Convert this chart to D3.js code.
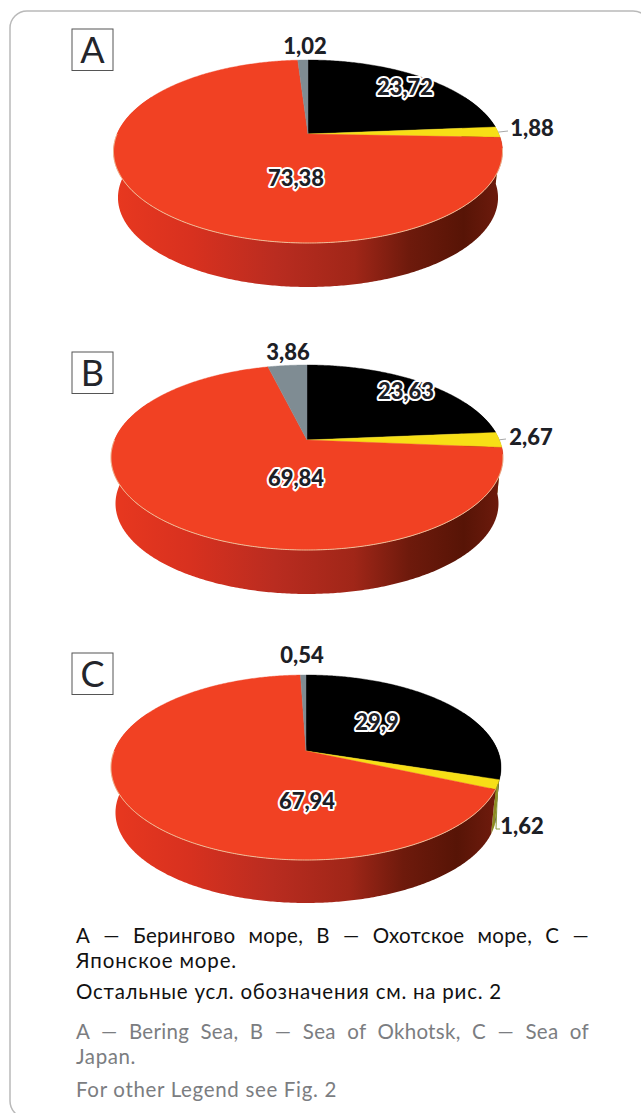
<!DOCTYPE html>
<html lang="ru">
<head>
<meta charset="utf-8">
<title>Доли групп по морям</title>
<script src="https://cdn.jsdelivr.net/npm/d3@7"></script>
<style>
html,body{margin:0;padding:0;background:#fff}
svg{display:block}
text{font-family:Lato,"Open Sans","Noto Sans",sans-serif}
</style>
</head>
<body>
<svg id="chart" width="641" height="1113"></svg>
<script>
// Share of each group, in percent, clockwise from twelve o'clock
const seas = ["A", "B", "C"];
const valuesA = [23.72, 1.88, 73.38, 1.02];
const valuesB = [23.63, 2.67, 69.84, 3.86];
const valuesC = [29.9, 1.62, 67.94, 0.54];
const labelsA = ["23,72", "1,88", "73,38", "1,02"];
const labelsB = ["23,63", "2,67", "69,84", "3,86"];
const labelsC = ["29,9", "1,62", "67,94", "0,54"];

const topColors = ["#000000", "#f7df16", "#f14123", "#7f8c93"];
const sideColors = ["#000000", "#8d8a20", "url(#side)", "#50585c"];
const inside = [true, false, true, false];

// Perspective layout of each disc: apex, half width, near/far half heights, rim drop
const layouts = [
  {cx: 308, cy: 134, a: 194.5, far: 74, near: 109, drop: 46.5,
   box: [72, 29], offsets: [[97, -47], [224, -6], [-12, 44], [-3, -88]], leader: [[200, -3]]},
  {cx: 307, cy: 440, a: 196, far: 75, near: 110, drop: 46.5,
   box: [72, 352], offsets: [[99, -49], [224, -3], [-11, 38], [-19, -88]], leader: [[199, -1]]},
  {cx: 306, cy: 751, a: 195, far: 76, near: 109, drop: 45.5,
   box: [72, 653], offsets: [[71, -29], [216, 75], [1, 50], [-4, -96]], leader: [[190, 78], [194, 78]]}
];

const svg = d3.select("#chart");

const defs = svg.append("defs");
const sideGrad = defs.append("linearGradient").attr("id", "side")
  .attr("x1", 0).attr("x2", 1).attr("y1", 0).attr("y2", 0);
[[0, "#e8381f"], [0.2, "#d8311f"], [0.42, "#b92c20"], [0.62, "#a02618"], [0.76, "#6e1a0c"],
 [0.9, "#571406"], [1, "#6f1b0d"]].forEach(([o, c]) =>
  sideGrad.append("stop").attr("offset", o).attr("stop-color", c));

// Card outline, running off the right and bottom edges
svg.append("rect").attr("x", 10).attr("y", 11).attr("width", 640).attr("height", 1107)
  .attr("rx", 17).attr("fill", "#fff").attr("stroke", "#b9b9b9").attr("stroke-width", 1.5);

const pie = d3.pie().sort(null).value(d => d);
const line = d3.line();
const series = [valuesA, valuesB, valuesC];
const labels = [labelsA, labelsB, labelsC];

seas.forEach((sea, i) => {
  const L = layouts[i];
  const arcs = pie(series[i]);
  const t = 2 * L.far * L.near / (L.far + L.near);
  const p = (L.near - L.far) / (L.far + L.near);
  const s = L.a * Math.sqrt(1 - p * p);
  const lowerScale = 0.977;

  // Homography from the pie plane to the page; rim=true gives the lower edge of the disc
  const project = (angle, r, rim) => {
    const u = r * Math.sin(angle), v = -r * Math.cos(angle);
    const w = 1 - p * v, k = rim ? lowerScale : 1;
    return [L.cx + k * s * u / w, L.cy + (rim ? L.drop : 0) + k * t * v / w];
  };
  const sweep = (a0, a1, rim) => {
    const n = Math.max(2, Math.ceil((a1 - a0) / 0.01));
    const angle = d3.scaleLinear().domain([0, n]).range([a0, a1]);
    return d3.range(n + 1).map(j => project(angle(j), 1, rim));
  };

  const g = svg.append("g").attr("class", "sea-" + sea);

  // Wall of the disc, only for the slices facing the viewer
  const front = [Math.PI * 0.35, Math.PI * 1.65];
  g.selectAll("path.side").data(arcs).join("path")
    .attr("class", "side")
    .attr("d", d => {
      const a0 = Math.max(d.startAngle, front[0]), a1 = Math.min(d.endAngle, front[1]);
      if (a1 <= a0) return null;
      return line(sweep(a0, a1, false).concat(sweep(a0, a1, true).reverse())) + "Z";
    })
    .attr("fill", (d, j) => sideColors[j]);

  // Upper face
  g.selectAll("path.top").data(arcs).join("path")
    .attr("class", "top")
    .attr("d", d => line([project(0, 0, false)].concat(sweep(d.startAngle, d.endAngle, false))) + "Z")
    .attr("fill", (d, j) => topColors[j])
    .attr("stroke", (d, j) => topColors[j])
    .attr("stroke-width", 0.4);

  // Pale highlight along the front rim of the largest slice
  const red = arcs[2];
  g.append("path")
    .attr("d", line(sweep(Math.max(red.startAngle, Math.PI * 0.55), Math.min(red.endAngle, Math.PI * 1.5), false)))
    .attr("fill", "none").attr("stroke", "#eec9a4").attr("stroke-width", 0.9);

  // Leader from the yellow slice to its label
  const yellow = arcs[1];
  const origin = project((yellow.startAngle + yellow.endAngle) / 2, 1, false);
  g.append("path")
    .attr("d", line([origin].concat(L.leader.map(o => [L.cx + o[0], L.cy + o[1]]))))
    .attr("fill", "none").attr("stroke", i === 2 ? "#8c9a3a" : "#a8a8a8").attr("stroke-width", 1);

  // Value labels
  g.selectAll("text.value").data(arcs).join("text")
    .attr("class", "value")
    .attr("x", (d, j) => L.cx + L.offsets[j][0])
    .attr("y", (d, j) => L.cy + L.offsets[j][1])
    .attr("dy", "0.36em")
    .attr("text-anchor", "middle")
    .attr("font-size", 22)
    .attr("font-weight", 900)
    .attr("fill", "#1d2026")
    .attr("stroke", (d, j) => inside[j] ? "#fff" : "none")
    .attr("stroke-width", 4)
    .attr("stroke-linejoin", "round")
    .attr("paint-order", "stroke")
    .text((d, j) => labels[i][j]);

  // Panel letter in its box
  g.append("rect").attr("x", L.box[0]).attr("y", L.box[1]).attr("width", 41).attr("height", 41.5)
    .attr("fill", "#fff").attr("stroke", "#555").attr("stroke-width", 1);
  g.append("text").attr("x", L.box[0] + 20.5).attr("y", L.box[1] + 34)
    .attr("text-anchor", "middle").attr("font-size", 36).attr("font-weight", 400)
    .attr("fill", "#23252b").text(sea);
});

// Caption, Russian then English. Justified lines widen their word gaps to the measure;
// the others widen their letter spacing to reach the end of the line.
const captionLines = [
  {text: "А — Берингово море, В — Охотское море, С —", y: 943, color: "#111", end: 589, justify: true},
  {text: "Японское море.", y: 968, color: "#111", end: 237},
  {text: "Остальные усл. обозначения см. на рис. 2", y: 999, color: "#111", end: 502},
  {text: "A — Bering Sea, B — Sea of Okhotsk, C — Sea of", y: 1039, color: "#7b7d81", end: 589, justify: true},
  {text: "Japan.", y: 1064, color: "#7b7d81", end: 136},
  {text: "For other Legend see Fig. 2", y: 1097, color: "#7b7d81", end: 337}
];
svg.append("g").selectAll("text").data(captionLines).join("text")
  .attr("x", 76).attr("y", d => d.y)
  .attr("font-size", 20.5).attr("fill", d => d.color)
  .text(d => d.text)
  .each(function (d) {
    const el = d3.select(this);
    const target = d.end - 76;
    if (d.justify) {
      el.attr("letter-spacing", 0.3);
      const gaps = d.text.split(" ").length - 1;
      el.attr("word-spacing", (target - this.getComputedTextLength()) / gaps);
    } else {
      el.attr("letter-spacing", (target - this.getComputedTextLength()) / d.text.length);
    }
  });
</script>
</body>
</html>
